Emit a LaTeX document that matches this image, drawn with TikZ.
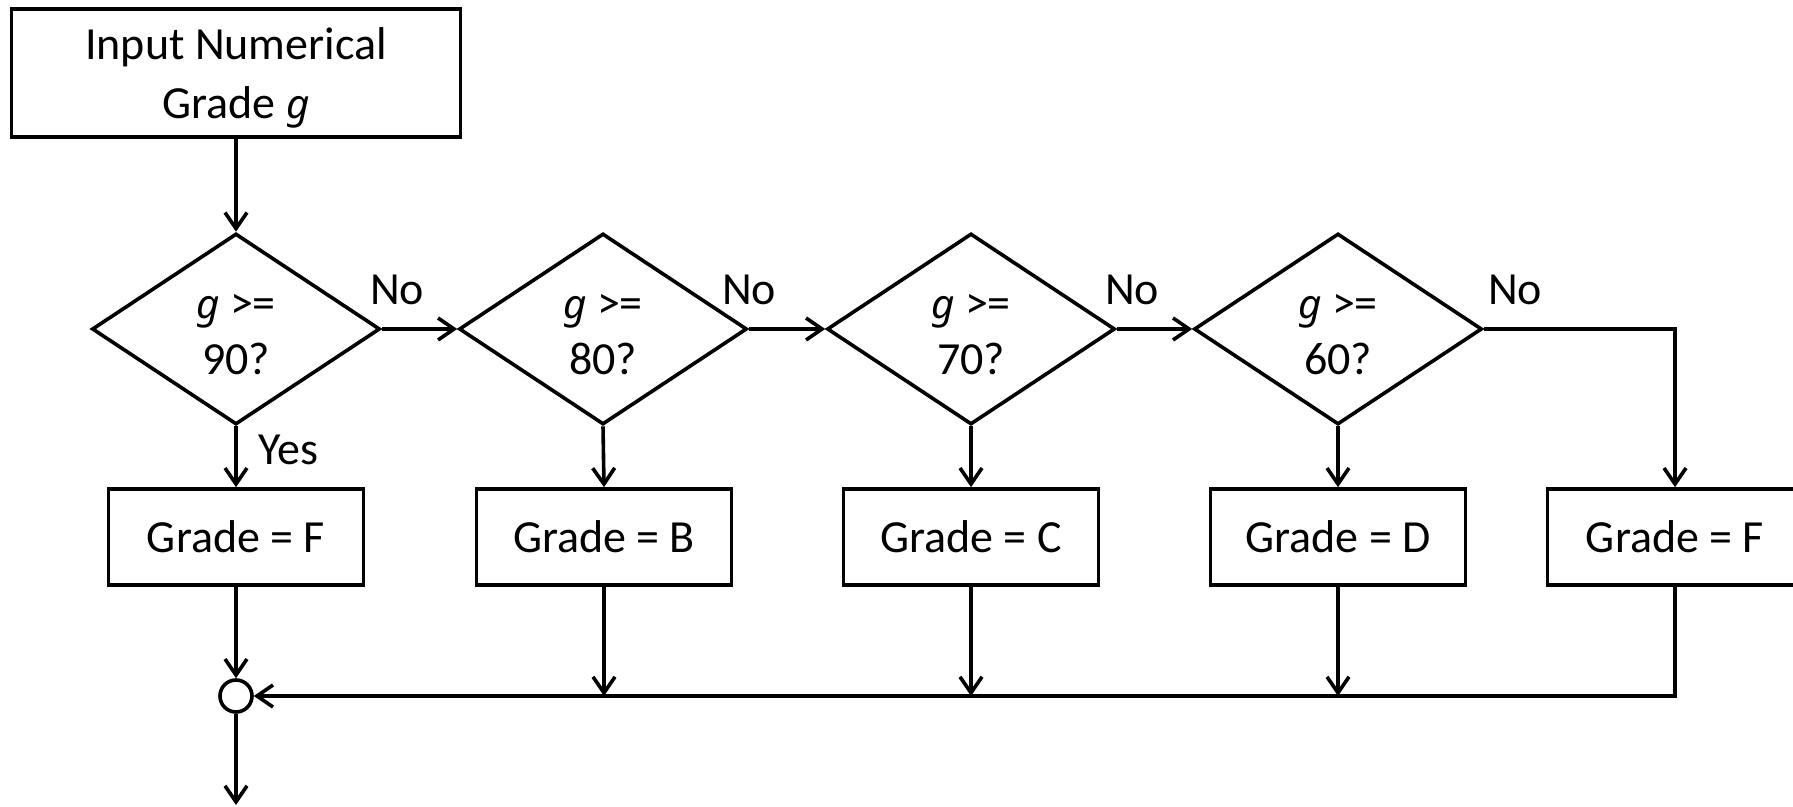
\documentclass[tikz,border=0pt]{standalone}
\usepackage{fontspec}
\setmainfont{Carlito}
\newfontfamily\gfont[Scale=0.88]{Noto Sans}
\newcommand\gvar{{\gfont\itshape g}}
\usetikzlibrary{shapes.geometric,arrows.meta}

\begin{document}
\begin{tikzpicture}[x=0.5pt,y=-0.5pt,
  line width=1.8pt,
  every node/.style={font=\fontsize{23}{28}\selectfont},
  flow/.style={-{Straight Barb[length=8pt,width=11pt,line width=1.8pt]}},
  procbox/.style={draw,rectangle,minimum width=127.5pt,minimum height=48pt,inner sep=0pt},
  startbox/.style={draw,rectangle,minimum width=224.5pt,minimum height=64pt,inner sep=0pt},
  decision/.style={draw,diamond,minimum width=144pt,minimum height=95.5pt,inner sep=0pt},
  boxtext/.style={inner sep=0pt,align=center},
  junction/.style={draw,circle,minimum size=16pt,inner sep=0pt},
  lbl/.style={inner sep=0pt}]

\useasboundingbox (0,0) rectangle (1793,807);

% input
\node[startbox] (in) at (236,73) {};
\node[boxtext,font=\fontsize{23}{29.5}\selectfont] (inT) at ([yshift=-2.5pt]in.center)
  {Input Numerical\\Grade \gvar};

% decisions
\node[decision] (d90) at (236,329) {};
\node[decision] (d80) at (603,329) {};
\node[decision] (d70) at (971,329) {};
\node[decision] (d60) at (1338,329) {};
\foreach \d/\v in {d90/90,d80/80,d70/70,d60/60}
  \node[boxtext,font=\fontsize{23}{28}\selectfont] (\d T) at ([yshift=-3pt]\d.center)
    {\gvar\ >=\\\v?};

% grade assignments
\node[procbox] (gA) at (236,537) {Grade = F};
\node[procbox] (gB) at (604,537) {Grade = B};
\node[procbox] (gC) at (971,537) {Grade = C};
\node[procbox] (gD) at (1338,537) {Grade = D};
\node[procbox] (gF) at (1675,537) {Grade = F};

% merge point
\node[junction] (j) at (236,696) {};
\coordinate (out) at (236,805);
\coordinate (bend) at (1675,329);
\coordinate (mB) at (604,696);
\coordinate (mC) at (971,696);
\coordinate (mD) at (1338,696);
\coordinate (mF) at (1675,696);

% flow
\draw[flow] (in) -- (d90);
\draw[flow] (d90.east) -- (d80.west);
\draw[flow] (d80.east) -- (d70.west);
\draw[flow] (d70.east) -- (d60.west);
\draw[flow] (d60.east) -- (bend) -- (gF.north);

\draw[flow] (d90.south) -- (gA.north);
\draw[flow] (d80.south) -- (gB.north);
\draw[flow] (d70.south) -- (gC.north);
\draw[flow] (d60.south) -- (gD.north);

\draw[flow] (gA.south) -- (j.north);
\draw[flow] (gB.south) -- (mB);
\draw[flow] (gC.south) -- (mC);
\draw[flow] (gD.south) -- (mD);
\draw[flow] (gF.south) -- (mF) -- (j.east);
\draw[flow] (j.south) -- (out);

% branch labels
\node[lbl] at (397,290) {No};
\node[lbl] at (749,290) {No};
\node[lbl] at (1132,290) {No};
\node[lbl] at (1515,290) {No};
\node[lbl] at (288,450) {Yes};

\end{tikzpicture}
\end{document}
